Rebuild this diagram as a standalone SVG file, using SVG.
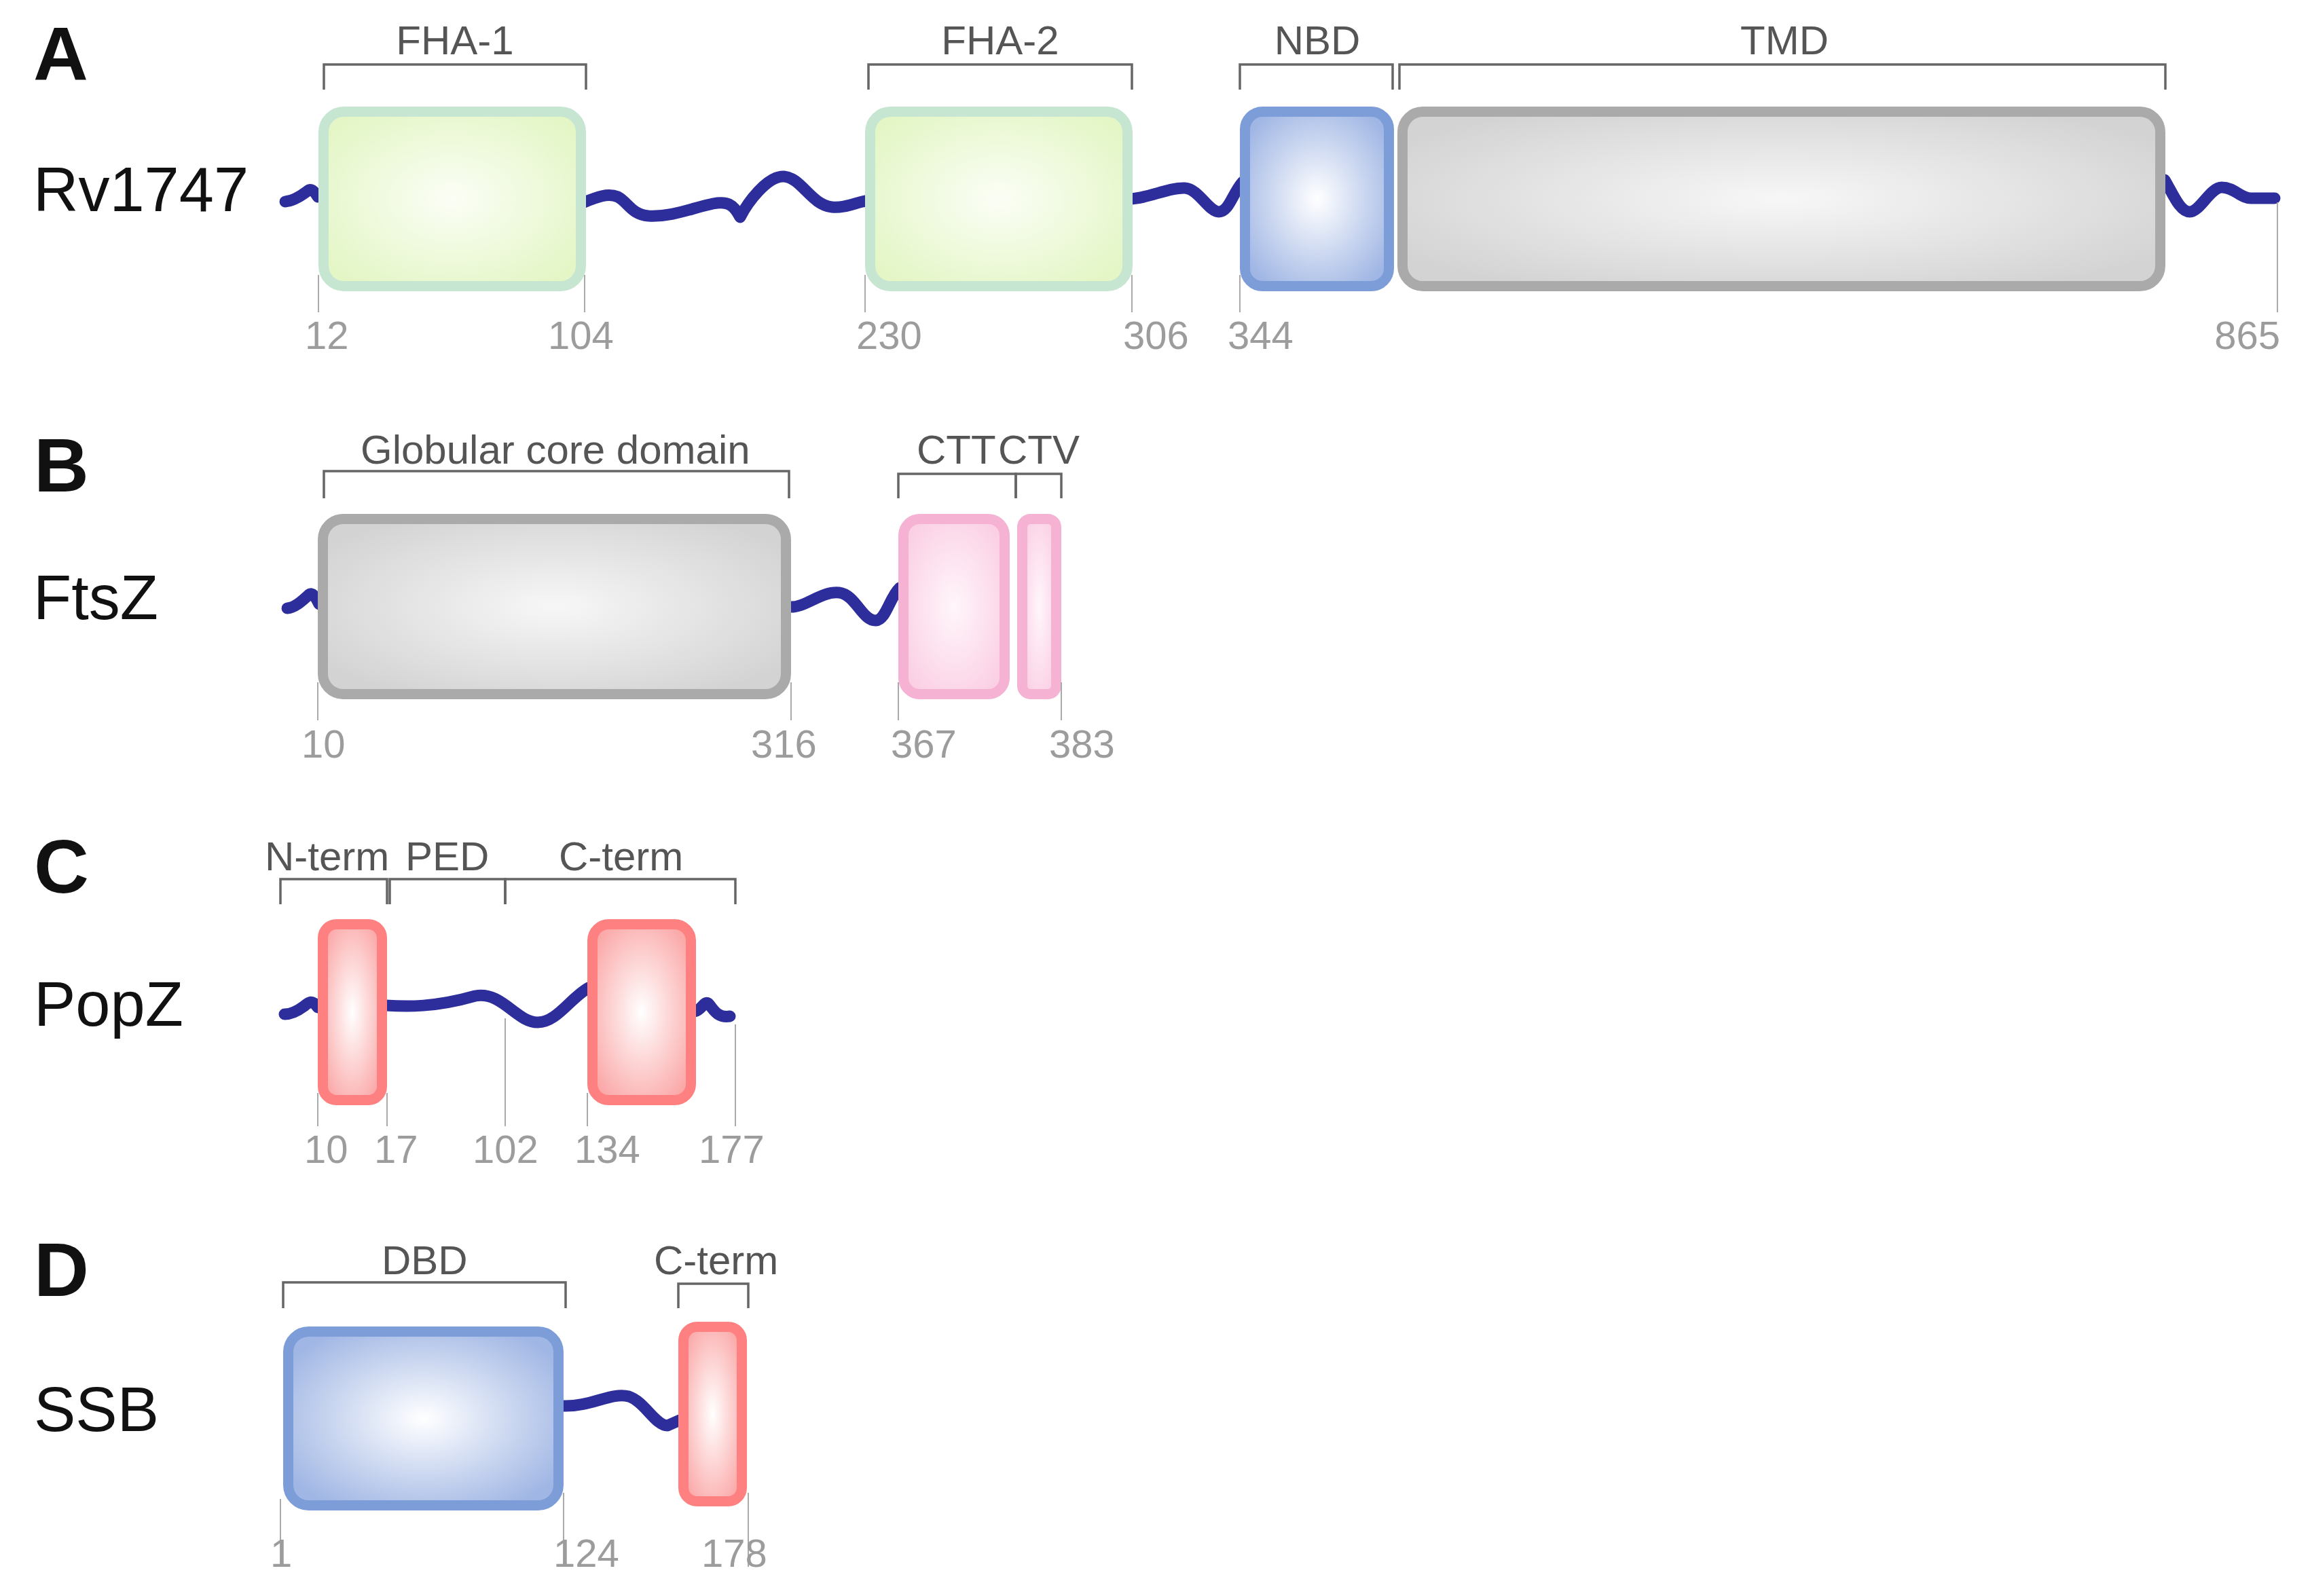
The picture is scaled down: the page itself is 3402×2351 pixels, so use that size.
<svg xmlns="http://www.w3.org/2000/svg" width="3402" height="2351" viewBox="0 0 3402 2351">
<defs>
<radialGradient id="gGreen" cx="50%" cy="50%" r="60%"><stop offset="0" stop-color="#fbfef6"/><stop offset="1" stop-color="#e4f6c6"/></radialGradient>
<radialGradient id="gGray" cx="50%" cy="50%" r="60%"><stop offset="0" stop-color="#f7f7f7"/><stop offset="1" stop-color="#d3d3d3"/></radialGradient>
<radialGradient id="gBlue" cx="50%" cy="50%" r="60%"><stop offset="0" stop-color="#ffffff"/><stop offset="1" stop-color="#a0b6e4"/></radialGradient>
<radialGradient id="gPink" cx="50%" cy="50%" r="60%"><stop offset="0" stop-color="#fff6fb"/><stop offset="1" stop-color="#fbcfe4"/></radialGradient>
<radialGradient id="gRed" cx="50%" cy="50%" r="60%"><stop offset="0" stop-color="#ffffff"/><stop offset="1" stop-color="#fba8a8"/></radialGradient>
</defs>
<style>
.panel{font-family:"Liberation Sans",Arial,sans-serif;font-weight:bold;font-size:112px;fill:#111}
.prot{font-family:"Liberation Sans",Arial,sans-serif;font-size:92px;fill:#111}
.dom{font-family:"Liberation Sans",Arial,sans-serif;font-size:60px;fill:#555}
.num{font-family:"Liberation Sans",Arial,sans-serif;font-size:58px;fill:#9c9c9c}
.br{fill:none;stroke:#666;stroke-width:3.5}
.tk{fill:none;stroke:#aaa;stroke-width:2}
.chain{fill:none;stroke:#2d2d9c;stroke-width:17;stroke-linecap:round;stroke-linejoin:round}
.box{stroke-width:15}
.green{fill:url(#gGreen);stroke:#c6e6d2}
.gray{fill:url(#gGray);stroke:#aaaaaa}
.blue{fill:url(#gBlue);stroke:#7c9dd8}
.pink{fill:url(#gPink);stroke:#f6b2d2}
.red{fill:url(#gRed);stroke:#ff8080}
</style>
<rect x="0" y="0" width="3402" height="2351" fill="#ffffff"/>

<g id="connectors">
<path class="chain" d="M420,297 C432,296 444,288 452,282 C458,277 462,280 468,290"/>
<path class="chain" d="M860,298 C880,290 895,284 910,290 C925,298 930,316 955,318 C990,320 1020,306 1050,300 C1070,296 1080,300 1090,320 C1100,300 1130,258 1155,260 C1180,262 1195,302 1225,305 C1245,307 1260,298 1280,295"/>
<path class="chain" d="M1662,293 C1690,293 1720,276 1745,277 C1765,278 1780,312 1795,312 C1810,312 1815,285 1830,268"/>
<path class="chain" d="M3188,265 C3200,285 3210,312 3225,312 C3240,312 3255,276 3272,276 C3290,276 3300,292 3315,292 L3350,292"/>
<path class="chain" d="M423,896 C435,895 446,884 455,876 C460,872 464,878 470,890"/>
<path class="chain" d="M1163,894 C1185,896 1210,870 1236,873 C1260,876 1270,915 1290,914 C1305,913 1310,880 1325,866"/>
<path class="chain" d="M419,1494 C430,1494 440,1488 448,1482 C455,1476 460,1472 468,1484"/>
<path class="chain" d="M568,1481 C600,1483 640,1484 700,1467 C740,1460 760,1506 792,1506 C820,1506 840,1470 867,1455"/>
<path class="chain" d="M1023,1490 C1033,1488 1037,1474 1043,1478 C1050,1485 1055,1500 1075,1497"/>
<path class="chain" d="M828,2071 C870,2073 900,2050 926,2057 C950,2065 965,2100 983,2100 L1001,2092"/>
</g>

<g id="panelA">
<text class="panel" x="49" y="118">A</text>
<text class="prot" x="49" y="311">Rv1747</text>
<g id="A-FHA1">
<path class="br" d="M477,132 V95 H863 V132"/>
<text class="dom" x="670" y="80" text-anchor="middle">FHA-1</text>
<rect class="box green" x="476.5" y="164.5" width="379" height="257" rx="30"/>
<path class="tk" d="M469,405 V460 M861,405 V460"/>
<text class="num" x="449" y="514">12</text>
<text class="num" x="807" y="514">104</text>
</g>
<g id="A-FHA2">
<path class="br" d="M1279,132 V95 H1667 V132"/>
<text class="dom" x="1473" y="80" text-anchor="middle">FHA-2</text>
<rect class="box green" x="1281.5" y="164.5" width="379" height="257" rx="30"/>
<path class="tk" d="M1274,405 V460 M1667,405 V460"/>
<text class="num" x="1261" y="514">230</text>
<text class="num" x="1654" y="514">306</text>
</g>
<g id="A-NBD">
<path class="br" d="M1826,132 V95 H2051 V132"/>
<text class="dom" x="1940" y="80" text-anchor="middle">NBD</text>
<rect class="box blue" x="1833.5" y="164.5" width="212" height="257" rx="26"/>
<path class="tk" d="M1826,405 V460"/>
<text class="num" x="1808" y="514">344</text>
</g>
<g id="A-TMD">
<path class="br" d="M2061,132 V95 H3189 V132"/>
<text class="dom" x="2628" y="80" text-anchor="middle">TMD</text>
<rect class="box gray" x="2065.5" y="164.5" width="1116" height="257" rx="30"/>
<path class="tk" d="M3354,298 V460"/>
<text class="num" x="3358" y="514" text-anchor="end">865</text>
</g>
</g>

<g id="panelB">
<text class="panel" x="50" y="724">B</text>
<text class="prot" x="49" y="912">FtsZ</text>
<g id="B-core">
<path class="br" d="M477,734 V694 H1162 V734"/>
<text class="dom" x="531" y="683">Globular core domain</text>
<rect class="box gray" x="475.5" y="764.5" width="682" height="258" rx="30"/>
<path class="tk" d="M468,1005 V1061 M1165,1005 V1061"/>
<text class="num" x="444" y="1116">10</text>
<text class="num" x="1106" y="1116">316</text>
</g>
<g id="B-CTT">
<path class="br" d="M1323,734 V698 H1496 V734"/>
<text class="dom" x="1350" y="683">CTT</text>
<rect class="box pink" x="1330.5" y="764.5" width="149" height="258" rx="24"/>
<path class="tk" d="M1323,1005 V1061"/>
<text class="num" x="1312" y="1116">367</text>
</g>
<g id="B-CTV">
<path class="br" d="M1496,734 V698 H1563 V734"/>
<text class="dom" x="1470" y="683">CTV</text>
<rect class="box pink" x="1505.5" y="764.5" width="50" height="258" rx="12"/>
<path class="tk" d="M1563,1005 V1061"/>
<text class="num" x="1545" y="1116">383</text>
</g>
</g>

<g id="panelC">
<text class="panel" x="50" y="1315">C</text>
<text class="prot" x="50" y="1511">PopZ</text>
<g id="C-Nterm">
<path class="br" d="M413,1332 V1295 H570 V1332"/>
<text class="dom" x="390" y="1282">N-term</text>
<rect class="box red" x="475.5" y="1361.5" width="87" height="259" rx="20"/>
<path class="tk" d="M468,1610 V1659 M570,1610 V1659"/>
<text class="num" x="448" y="1713">10</text>
<text class="num" x="551" y="1713">17</text>
</g>
<g id="C-PED">
<path class="br" d="M574,1332 V1295 H744 V1332"/>
<text class="dom" x="597" y="1282">PED</text>
<path class="tk" d="M744,1500 V1659"/>
<text class="num" x="696" y="1713">102</text>
</g>
<g id="C-Cterm">
<path class="br" d="M744,1332 V1295 H1083 V1332"/>
<text class="dom" x="823" y="1282">C-term</text>
<rect class="box red" x="872.5" y="1361.5" width="145" height="259" rx="24"/>
<path class="tk" d="M865,1610 V1659 M1083,1509 V1659"/>
<text class="num" x="846" y="1713">134</text>
<text class="num" x="1029" y="1713">177</text>
</g>
</g>

<g id="panelD">
<text class="panel" x="50" y="1909">D</text>
<text class="prot" x="50" y="2108">SSB</text>
<g id="D-DBD">
<path class="br" d="M417,1927 V1889 H833 V1927"/>
<text class="dom" x="562" y="1877">DBD</text>
<rect class="box blue" x="424.5" y="1961.5" width="398" height="256" rx="30"/>
<path class="tk" d="M413,2208 V2308 M830,2199 V2308"/>
<text class="num" x="398" y="2308">1</text>
<text class="num" x="815" y="2308">124</text>
</g>
<g id="D-Cterm">
<path class="br" d="M999,1927 V1891 H1102 V1927"/>
<text class="dom" x="963" y="1877">C-term</text>
<rect class="box red" x="1006.5" y="1954.5" width="86" height="257" rx="20"/>
<path class="tk" d="M1102,2199 V2308"/>
<text class="num" x="1033" y="2308">178</text>
</g>
</g>
</svg>
